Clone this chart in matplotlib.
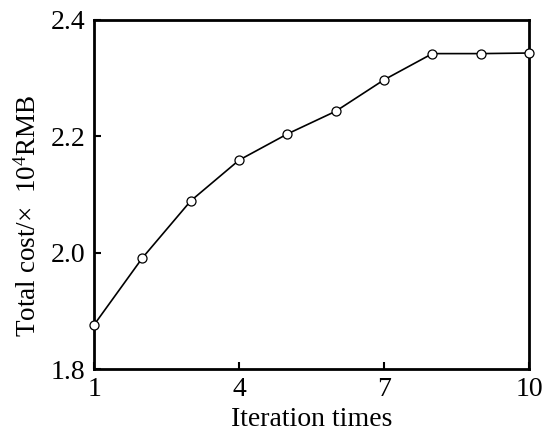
import matplotlib.pyplot as plt
from matplotlib.ticker import FormatStrFormatter

plt.rcParams['font.family'] = 'Liberation Serif'
plt.rcParams['mathtext.default'] = 'regular'

# data
iterations = [1, 2, 3, 4, 5, 6, 7, 8, 9, 10]
total_cost = [1.876, 1.991, 2.089, 2.159, 2.204, 2.243, 2.297, 2.342, 2.342, 2.343]
x_ticks = [1, 4, 7, 10]
y_ticks = [1.8, 2.0, 2.2, 2.4]

fig = plt.figure(figsize=(5.5, 4.41), dpi=100)
ax = fig.add_axes([0.171, 0.163, 0.791, 0.792])

ax.plot(iterations, total_cost, 'k-', lw=1.2, marker='o', ms=6.5,
        mfc='white', mec='k', mew=0.9, clip_on=False, zorder=3)

ax.set_xlim(1, 10)
ax.set_ylim(1.8, 2.4)
ax.set_xticks(x_ticks)
ax.set_yticks(y_ticks)
ax.yaxis.set_major_formatter(FormatStrFormatter('%.1f'))
ax.tick_params(direction='in', length=5, width=1.5, labelsize=20, pad=6)

for s in ax.spines.values():
    s.set_linewidth(2)

ax.set_xlabel('Iteration times', fontsize=20, labelpad=3)
ax.set_ylabel('Total cost/\u00d7  10$^4$RMB', fontsize=19.5)
ax.yaxis.set_label_coords(-0.12, 0.44)

fig.savefig('out.png', dpi=100)
